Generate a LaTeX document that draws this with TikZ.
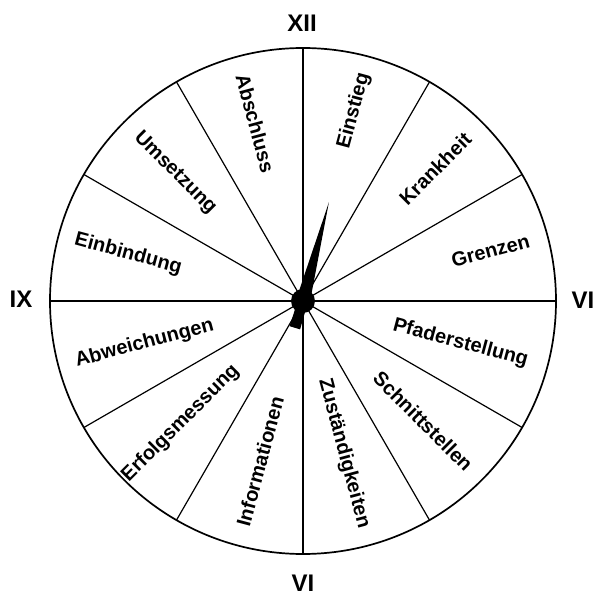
\documentclass[tikz,border=0pt]{standalone}
\usepackage{fontspec}
\setmainfont{Liberation Sans}
\begin{document}
\begin{tikzpicture}[x=1pt,y=1pt,
  seg/.style={font=\bfseries\fontsize{20}{24}\selectfont, inner sep=0pt},
  num/.style={font=\bfseries\fontsize{24}{28}\selectfont, inner sep=0pt},
  spoke/.style={line width=1.2pt},
  rim/.style={line width=1.7pt}]
\useasboundingbox (-303,-296) rectangle (295,301);
\coordinate (c) at (0,0);
\foreach \a in {0,30,...,330} {
  \coordinate (p\a) at (\a:253);
  \draw[spoke] (c) -- (p\a);
}
\draw[rim] (c) circle (253);
% labels
\node[seg, rotate=75]  (einstieg)  at (75:197)   {Einstieg};
\node[seg, rotate=45]  (krankheit) at (45:187)   {Krankheit};
\node[seg, rotate=15]  (grenzen)   at (15:194)   {Grenzen};
\node[seg, rotate=-15] (pfad)      at (-15:163)  {Pfaderstellung};
\node[seg, rotate=-45] (schnitt)   at (-45:170)  {Schnittstellen};
\node[seg, rotate=-75] (zust)      at (-75:158)  {Zuständigkeiten};
\node[seg, rotate=75]  (info)      at (-105:166) {Informationen};
\node[seg, rotate=45]  (erfolg)    at (-135:173) {Erfolgsmessung};
\node[seg, rotate=15]  (abw)       at (-165:164) {Abweichungen};
\node[seg, rotate=-15] (einb)      at (165:181)  {Einbindung};
\node[seg, rotate=-45] (ums)       at (135:181)  {Umsetzung};
\node[seg, rotate=-75] (absch)     at (105:184)  {Abschluss};
% numerals
\node[num] (n12) at (-1,278) {XII};
\node[num] (n9)  at (-282,2) {IX};
\node[num] (n3)  at (280,1)  {VI};
\node[num] (n6)  at (0,-282) {VI};
% hands
\begin{scope}[rotate=75.3]
  \fill (0,-7) -- (102,0) -- (0,7) -- cycle;
\end{scope}
\begin{scope}[rotate=253]
  \fill (0,-5) -- (28,-5.5) -- (28,5.5) -- (0,5) -- cycle;
\end{scope}
\fill (c) circle (12);
\end{tikzpicture}
\end{document}
